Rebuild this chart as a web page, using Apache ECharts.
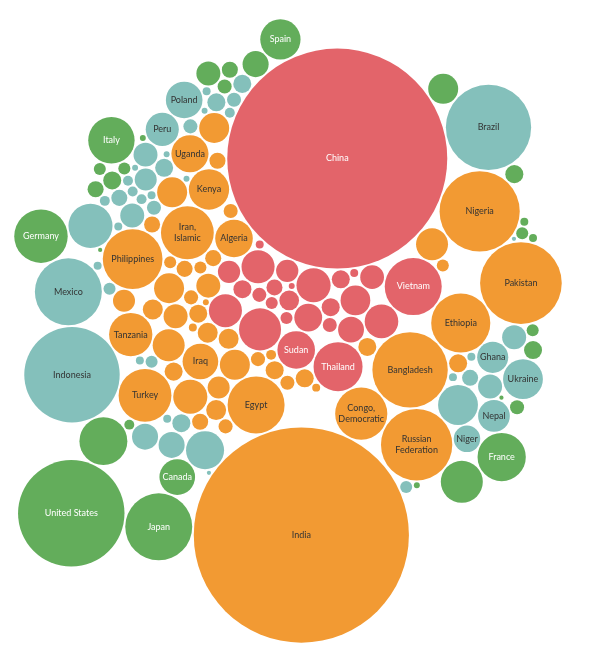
<!DOCTYPE html>
<html>
<head>
<meta charset="utf-8">
<script src="https://cdn.jsdelivr.net/npm/echarts@6/dist/echarts.min.js"></script>
<style>
  html, body { margin: 0; padding: 0; background: #fff; }
  #chart { width: 607px; height: 656px; }
</style>
</head>
<body>
<div id="chart"></div>
<script>
// population (millions), one list per colour group
const redNames = ['China', 'Vietnam', 'Thailand', 'Sudan', 'Myanmar', 'Afghanistan', 'Malaysia', 'Uzbekistan',
  'Venezuela', 'Korea, Dem.', 'Cameroon', 'Sri Lanka', 'Syria', 'Cambodia', 'Zimbabwe', 'Bolivia', 'Cuba',
  'Tunisia', 'Haiti', 'Dominican Republic', 'Laos', 'Tajikistan', 'Kyrgyzstan', 'Lebanon', 'Mongolia',
  'Namibia', 'Bhutan']
const redValues = [1371, 92, 68, 40, 50, 33, 31, 31, 32, 25, 22, 19, 16, 14, 14, 11, 9.2, 9.2, 9.2, 7.3, 5.6,
  5.6, 4.1, 4.1, 1.8, 1.8, 1.0]

const orangeNames = ['India', 'Pakistan', 'Nigeria', 'Bangladesh', 'Russian Federation', 'Ethiopia',
  'Philippines', 'Egypt', 'Congo, Democratic', 'Iran, Islamic', 'Turkey', 'Tanzania', 'Kenya', 'Uganda',
  'Algeria', 'Iraq', 'Morocco', 'Angola', 'Mozambique', 'Yemen', 'Madagascar', 'Saudi Arabia',
  "Cote d'Ivoire", 'Burkina Faso', 'Mali', 'Malawi', 'Zambia', 'Senegal', 'Chad', 'Guinea', 'Rwanda',
  'Burundi', 'Benin', 'South Sudan', 'Somalia', 'Azerbaijan', 'Jordan', 'Belarus', 'Togo', 'Sierra Leone',
  'Libya', 'Paraguay', 'Eritrea', 'Central African Republic', 'Turkmenistan', 'Liberia', 'Congo',
  'Mauritania', 'Oman', 'Georgia', 'Armenia', 'Gambia', 'Lesotho', 'Guinea-Bissau']
const orangeValues = [1311, 189, 182, 161, 144, 99, 101, 92, 77, 79, 79, 53, 46, 39, 40, 36, 33, 29, 29,
  25.5, 25.5, 25.5, 25.5, 16.3, 16.3, 13.7, 13.7, 11.3, 11.3, 11.3, 11.3, 9.2, 9.2, 9.2, 9.2, 9.2, 9.2,
  7.3, 7.3, 7.3, 7.3, 7.3, 5.6, 5.6, 5.6, 5.6, 5.6, 4.1, 4.1, 4.1, 2.8, 1.8, 1.8, 1.0]

const tealNames = ['Indonesia', 'Brazil', 'Mexico', 'Ukraine', 'Poland', 'Peru', 'Nepal', 'Ghana', 'Niger',
  'South Africa', 'Colombia', 'Argentina', 'Romania', 'Kazakhstan', 'Ecuador', 'Guatemala', 'Honduras',
  'Papua New Guinea', 'Hungary', 'Serbia', 'El Salvador', 'Nicaragua', 'Bulgaria', 'Costa Rica', 'Panama',
  'Moldova', 'Albania', 'Jamaica', 'Bosnia and Herzegovina', 'Macedonia', 'Botswana', 'Gabon', 'Swaziland',
  'Timor-Leste', 'Mauritius', 'Fiji', 'Guyana', 'Suriname', 'Comoros', 'Djibouti', 'Equatorial Guinea',
  'Solomon Islands', 'Montenegro', 'Cabo Verde', 'Belize', 'Maldives', 'Vanuatu', 'Samoa',
  'Sao Tome and Principe', 'Tonga']
const tealValues = [258, 206, 127, 45, 38, 31, 28.5, 27.4, 19.9, 55, 45, 41, 19.2, 19.2, 16.3, 16.3, 16.3,
  16.3, 13.7, 9.2, 9.2, 9.2, 9.2, 7.3, 7.3, 5.6, 5.6, 5.6, 4.1, 4.1, 4.1, 2.8, 2.8, 2.8, 2.8, 2.8, 1.8, 1.8,
  1.8, 1.8, 1.8, 1.8, 1.8, 1.8, 1.0, 1.0, 1.0, 1.0, 0.5, 0.5]

const greenNames = ['United States', 'Japan', 'Germany', 'France', 'Italy', 'Spain', 'Canada',
  'United Kingdom', 'Korea, Rep.', 'Australia', 'Chile', 'Netherlands', 'Belgium', 'Greece',
  'Czech Republic', 'Portugal', 'Sweden', 'Austria', 'Switzerland', 'Israel', 'Denmark', 'Finland', 'Norway',
  'Slovakia', 'Ireland', 'New Zealand', 'Uruguay', 'Lithuania', 'Slovenia', 'Estonia']
const greenValues = [321, 127, 81, 66, 61, 46, 36, 65, 50, 25.5, 19.2, 16.3, 9.2, 9.2, 9.2, 7.3, 7.3, 5.6,
  5.6, 4.1, 4.1, 4.1, 4.1, 2.8, 1.8, 1.8, 1.0, 1.0, 0.5, 0.5]

// bubbles that carry a visible label
const labelled = ['China', 'India', 'United States', 'Indonesia', 'Brazil', 'Pakistan', 'Nigeria',
  'Bangladesh', 'Russian Federation', 'Mexico', 'Japan', 'Ethiopia', 'Philippines', 'Vietnam', 'Egypt',
  'Congo, Democratic', 'Germany', 'Iran, Islamic', 'Turkey', 'Thailand', 'France', 'Italy', 'Tanzania',
  'Kenya', 'Spain', 'Ukraine', 'Uganda', 'Algeria', 'Sudan', 'Iraq', 'Poland', 'Canada', 'Peru', 'Nepal',
  'Ghana', 'Niger']

const groups = [
  { names: redNames, values: redValues, color: '#e3646a', text: '#fff' },
  { names: orangeNames, values: orangeValues, color: '#f29a33', text: '#333' },
  { names: tealNames, values: tealValues, color: '#84c0bb', text: '#333' },
  { names: greenNames, values: greenValues, color: '#63ad5b', text: '#fff' },
]

const W = 607
const H = 656
const k = 110 / Math.sqrt(1371)
const gap = 0.9

// front-chain circle packing (same idea as d3.packSiblings)
function place(b, a, c) {
  const dx = b.x - a.x, dy = b.y - a.y, d2 = dx * dx + dy * dy
  if (d2) {
    let a2 = a.r + c.r, b2 = b.r + c.r, x, y
    a2 *= a2; b2 *= b2
    if (a2 > b2) {
      x = (d2 + b2 - a2) / (2 * d2)
      y = Math.sqrt(Math.max(0, b2 / d2 - x * x))
      c.x = b.x - x * dx - y * dy
      c.y = b.y - x * dy + y * dx
    } else {
      x = (d2 + a2 - b2) / (2 * d2)
      y = Math.sqrt(Math.max(0, a2 / d2 - x * x))
      c.x = a.x + x * dx - y * dy
      c.y = a.y + x * dy + y * dx
    }
  } else {
    c.x = a.x + c.r
    c.y = a.y
  }
}
function intersects(a, b) {
  const dr = a.r + b.r - 1e-6, dx = b.x - a.x, dy = b.y - a.y
  return dr > 0 && dr * dr > dx * dx + dy * dy
}
function score(node) {
  const a = node._, b = node.next._, ab = a.r + b.r
  const dx = (a.x * b.r + b.x * a.r) / ab, dy = (a.y * b.r + b.y * a.r) / ab
  return dx * dx + dy * dy
}
function packSiblings(circles) {
  const n = circles.length
  let a = circles[0], b, c
  a.x = 0; a.y = 0
  if (n < 2) return
  b = circles[1]
  a.x = -b.r; b.x = a.r; b.y = 0
  if (n < 3) return
  place(b, a, c = circles[2])
  a = { _: a }; b = { _: b }; c = { _: c }
  a.next = c.previous = b
  b.next = a.previous = c
  c.next = b.previous = a
  pack: for (let i = 3; i < n; ++i) {
    place(a._, b._, c = circles[i]); c = { _: c }
    let j = b.next, kk = a.previous, sj = b._.r, sk = a._.r
    do {
      if (sj <= sk) {
        if (intersects(j._, c._)) { b = j; a.next = b; b.previous = a; --i; continue pack }
        sj += j._.r; j = j.next
      } else {
        if (intersects(kk._, c._)) { a = kk; a.next = b; b.previous = a; --i; continue pack }
        sk += kk._.r; kk = kk.previous
      }
    } while (j !== kk.next)
    c.previous = a; c.next = b; a.next = b.previous = b = c
    let aa = score(a), ca
    while ((c = c.next) !== b) {
      if ((ca = score(c)) < aa) { a = c; aa = ca }
    }
    b = a.next
  }
}

// groups in turn, alphabetical inside each group
const circles = []
groups.forEach((g, gi) => {
  const order = g.names.map((_, i) => i).sort((p, q) => g.names[p].localeCompare(g.names[q]))
  order.forEach(i => {
    const r0 = k * Math.sqrt(g.values[i])
    circles.push({ name: g.names[i], value: g.values[i], group: gi, r0: r0, r: r0 + gap })
  })
})
packSiblings(circles)

function bbox() {
  let x0 = Infinity, x1 = -Infinity, y0 = Infinity, y1 = -Infinity
  circles.forEach(c => {
    x0 = Math.min(x0, c.x - c.r0); x1 = Math.max(x1, c.x + c.r0)
    y0 = Math.min(y0, c.y - c.r0); y1 = Math.max(y1, c.y + c.r0)
  })
  return { x0, x1, y0, y1, cx: (x0 + x1) / 2, cy: (y0 + y1) / 2 }
}

// orient the packing: China above India, leaning a little to the right
const find = n => circles.find(c => c.name === n)
let bb = bbox()
const ind = find('India'), chn = find('China')
const cross = (ind.x - bb.cx) * (chn.y - bb.cy) - (ind.y - bb.cy) * (chn.x - bb.cx)
if (cross > 0) circles.forEach(c => { c.y = -c.y })
const ang = Math.atan2(346, -33) - Math.atan2(ind.y - chn.y, ind.x - chn.x)
const cs = Math.cos(ang), sn = Math.sin(ang)
circles.forEach(c => {
  const x = (c.x - bb.cx) * cs - (c.y - bb.cy) * sn
  const y = (c.x - bb.cx) * sn + (c.y - bb.cy) * cs
  c.x = x; c.y = y
})
bb = bbox()
const s = Math.min(1, (W - 16) / (bb.x1 - bb.x0), (H - 8) / (bb.y1 - bb.y0))

function wrapName(name, r) {
  if (name.length * 4.6 > 1.6 * r && name.indexOf(' ') > 0) return name.replace(' ', '\n')
  return name
}

const seriesData = circles.map(c => {
  const g = groups[c.group]
  const r = c.r0 * s
  return {
    name: c.name,
    value: [288 + (c.x - bb.cx) * s, 331 + (c.y - bb.cy) * s, r * 2, c.value],
    itemStyle: { color: g.color },
    label: {
      show: labelled.indexOf(c.name) >= 0,
      color: g.text,
      formatter: wrapName(c.name, r),
    },
  }
})

const chart = echarts.init(document.getElementById('chart'))
chart.setOption({
  animation: false,
  grid: { left: 0, right: 0, top: 0, bottom: 0 },
  xAxis: { type: 'value', min: 0, max: W, show: false },
  yAxis: { type: 'value', min: 0, max: H, inverse: true, show: false },
  series: [
    {
      type: 'scatter',
      data: seriesData,
      symbolSize: v => v[2],
      itemStyle: { opacity: 1 },
      label: {
        position: 'inside',
        fontSize: 9,
        fontFamily: 'Lato, "Noto Sans", sans-serif',
        lineHeight: 11,
      },
      emphasis: { disabled: true },
    },
  ],
})
</script>
</body>
</html>
